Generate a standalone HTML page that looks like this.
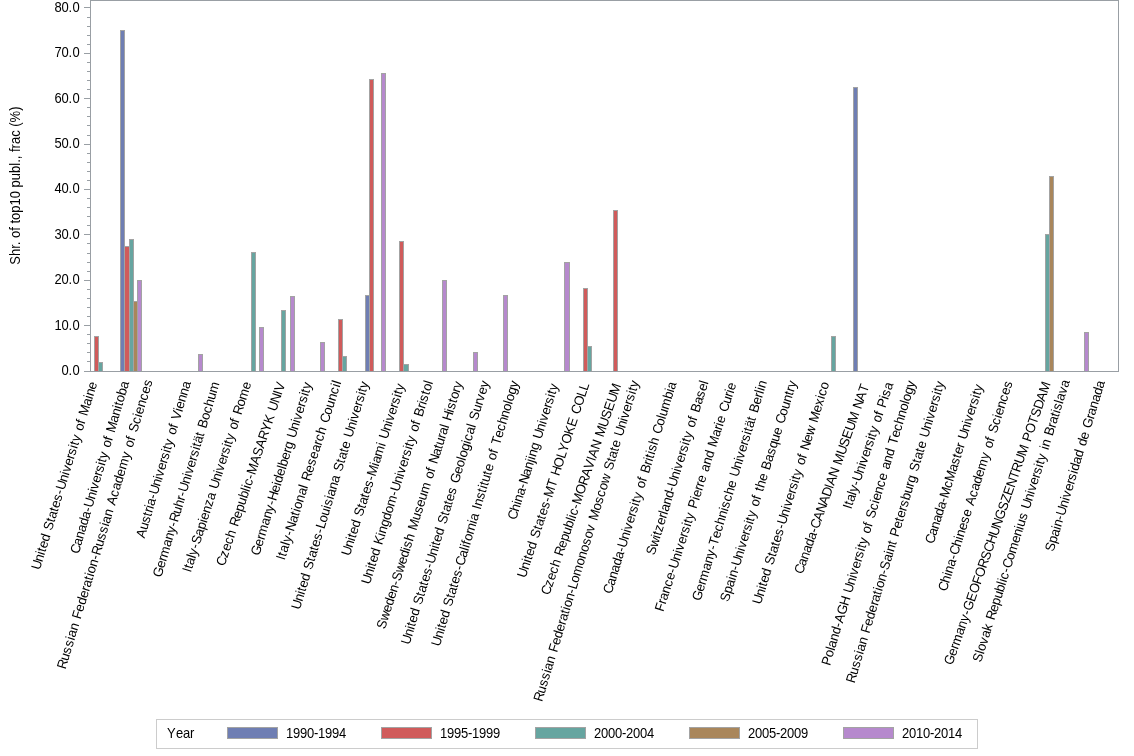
<!DOCTYPE html>
<html><head><meta charset="utf-8"><style>
html,body{margin:0;padding:0;background:#fff;}
svg{display:block;will-change:transform;}
text{font-family:'Liberation Sans',sans-serif;font-size:13.5px;fill:#000;}
</style></head><body>
<svg width="1134" height="756" viewBox="0 0 1134 756">
<rect x="90.5" y="0.5" width="1028" height="371" fill="#fff" stroke="#999fa4" stroke-width="1" shape-rendering="crispEdges"/>
<g shape-rendering="crispEdges"><rect x="94" y="336" width="5" height="35" fill="#a3a3a3"/><rect x="98" y="362" width="5" height="9" fill="#a3a3a3"/><rect x="120" y="30" width="5" height="341" fill="#a3a3a3"/><rect x="124" y="246" width="6" height="125" fill="#a3a3a3"/><rect x="129" y="239" width="5" height="132" fill="#a3a3a3"/><rect x="133" y="301" width="5" height="70" fill="#a3a3a3"/><rect x="137" y="280" width="5" height="91" fill="#a3a3a3"/><rect x="198" y="354" width="5" height="17" fill="#a3a3a3"/><rect x="251" y="252" width="5" height="119" fill="#a3a3a3"/><rect x="259" y="327" width="5" height="44" fill="#a3a3a3"/><rect x="281" y="310" width="5" height="61" fill="#a3a3a3"/><rect x="290" y="296" width="5" height="75" fill="#a3a3a3"/><rect x="320" y="342" width="5" height="29" fill="#a3a3a3"/><rect x="338" y="319" width="5" height="52" fill="#a3a3a3"/><rect x="342" y="356" width="5" height="15" fill="#a3a3a3"/><rect x="365" y="295" width="5" height="76" fill="#a3a3a3"/><rect x="369" y="79" width="5" height="292" fill="#a3a3a3"/><rect x="381" y="73" width="5" height="298" fill="#a3a3a3"/><rect x="399" y="241" width="5" height="130" fill="#a3a3a3"/><rect x="403" y="364" width="6" height="7" fill="#a3a3a3"/><rect x="442" y="280" width="5" height="91" fill="#a3a3a3"/><rect x="473" y="352" width="5" height="19" fill="#a3a3a3"/><rect x="503" y="295" width="5" height="76" fill="#a3a3a3"/><rect x="564" y="262" width="6" height="109" fill="#a3a3a3"/><rect x="583" y="288" width="5" height="83" fill="#a3a3a3"/><rect x="587" y="346" width="5" height="25" fill="#a3a3a3"/><rect x="613" y="210" width="5" height="161" fill="#a3a3a3"/><rect x="831" y="336" width="5" height="35" fill="#a3a3a3"/><rect x="853" y="87" width="5" height="284" fill="#a3a3a3"/><rect x="1045" y="234" width="5" height="137" fill="#a3a3a3"/><rect x="1049" y="176" width="5" height="195" fill="#a3a3a3"/><rect x="1084" y="332" width="5" height="39" fill="#a3a3a3"/><rect x="95" y="337" width="3" height="34" fill="#D05B5B"/><rect x="99" y="363" width="3" height="8" fill="#66A5A0"/><rect x="121" y="31" width="3" height="340" fill="#6F7EB3"/><rect x="125" y="247" width="4" height="124" fill="#D05B5B"/><rect x="130" y="240" width="3" height="131" fill="#66A5A0"/><rect x="134" y="302" width="3" height="69" fill="#A9865B"/><rect x="138" y="281" width="3" height="90" fill="#B689CD"/><rect x="199" y="355" width="3" height="16" fill="#B689CD"/><rect x="252" y="253" width="3" height="118" fill="#66A5A0"/><rect x="260" y="328" width="3" height="43" fill="#B689CD"/><rect x="282" y="311" width="3" height="60" fill="#66A5A0"/><rect x="291" y="297" width="3" height="74" fill="#B689CD"/><rect x="321" y="343" width="3" height="28" fill="#B689CD"/><rect x="339" y="320" width="3" height="51" fill="#D05B5B"/><rect x="343" y="357" width="3" height="14" fill="#66A5A0"/><rect x="366" y="296" width="3" height="75" fill="#6F7EB3"/><rect x="370" y="80" width="3" height="291" fill="#D05B5B"/><rect x="382" y="74" width="3" height="297" fill="#B689CD"/><rect x="400" y="242" width="3" height="129" fill="#D05B5B"/><rect x="404" y="365" width="4" height="6" fill="#66A5A0"/><rect x="443" y="281" width="3" height="90" fill="#B689CD"/><rect x="474" y="353" width="3" height="18" fill="#B689CD"/><rect x="504" y="296" width="3" height="75" fill="#B689CD"/><rect x="565" y="263" width="4" height="108" fill="#B689CD"/><rect x="584" y="289" width="3" height="82" fill="#D05B5B"/><rect x="588" y="347" width="3" height="24" fill="#66A5A0"/><rect x="614" y="211" width="3" height="160" fill="#D05B5B"/><rect x="832" y="337" width="3" height="34" fill="#66A5A0"/><rect x="854" y="88" width="3" height="283" fill="#6F7EB3"/><rect x="1046" y="235" width="3" height="136" fill="#66A5A0"/><rect x="1050" y="177" width="3" height="194" fill="#A9865B"/><rect x="1085" y="333" width="3" height="38" fill="#B689CD"/></g>
<path d="M90.5 0V372M90 371.5H1119" stroke="#999fa4" stroke-width="1" shape-rendering="crispEdges" fill="none"/>
<path d="M84 371.5H90M87 361.5H90M87 352.5H90M87 343.5H90M87 334.5H90M84 325.5H90M87 316.5H90M87 307.5H90M87 298.5H90M87 289.5H90M84 280.5H90M87 271.5H90M87 262.5H90M87 253.5H90M87 243.5H90M84 234.5H90M87 225.5H90M87 216.5H90M87 207.5H90M87 198.5H90M84 189.5H90M87 180.5H90M87 171.5H90M87 162.5H90M87 153.5H90M84 144.5H90M87 135.5H90M87 125.5H90M87 116.5H90M87 107.5H90M84 98.5H90M87 89.5H90M87 80.5H90M87 71.5H90M87 62.5H90M84 53.5H90M87 44.5H90M87 35.5H90M87 26.5H90M87 17.5H90M84 7.5H90" stroke="#999fa4" stroke-width="1" shape-rendering="crispEdges"/>
<text style="font-size:14px" transform="translate(79.40,375.00) scale(0.9286,1)" x="-19.38 -11.85 -7.54">0.0</text>
<text style="font-size:14px" transform="translate(79.40,330.00) scale(0.9286,1)" x="-26.92 -19.38 -11.85 -7.54">10.0</text>
<text style="font-size:14px" transform="translate(79.40,284.00) scale(0.9286,1)" x="-26.92 -19.38 -11.85 -7.54">20.0</text>
<text style="font-size:14px" transform="translate(79.40,239.00) scale(0.9286,1)" x="-26.92 -19.38 -11.85 -7.54">30.0</text>
<text style="font-size:14px" transform="translate(79.40,193.00) scale(0.9286,1)" x="-26.92 -19.38 -11.85 -7.54">40.0</text>
<text style="font-size:14px" transform="translate(79.40,148.00) scale(0.9286,1)" x="-26.92 -19.38 -11.85 -7.54">50.0</text>
<text style="font-size:14px" transform="translate(79.40,103.00) scale(0.9286,1)" x="-26.92 -19.38 -11.85 -7.54">60.0</text>
<text style="font-size:14px" transform="translate(79.40,57.00) scale(0.9286,1)" x="-26.92 -19.38 -11.85 -7.54">70.0</text>
<text style="font-size:14px" transform="translate(79.40,12.00) scale(0.9286,1)" x="-26.92 -19.38 -11.85 -7.54">80.0</text>
<text style="font-size:14px" transform="translate(20.00,185.60) rotate(-90) scale(0.9286,1)" text-anchor="middle">Shr. of top10 publ., frac (%)</text>
<text transform="translate(39.74,570.58) rotate(-72.91) scale(0.9630,1)" x="0.00 8.85 16.11 19.28 23.47 30.73 37.99 42.73 51.58 55.77 63.03 67.22 74.48 81.74 86.61 95.47 102.73 105.89 113.15 120.41 124.60 131.87 135.03 139.22 146.48 151.22 158.48 162.67 167.40 178.30 185.57 188.73 195.99">United States-University of Maine</text>
<text transform="translate(78.66,554.50) rotate(-73.58) scale(0.9630,1)" x="0.00 8.88 16.17 23.45 30.74 38.02 45.30 50.19 59.07 66.36 69.53 76.82 84.10 88.31 95.59 98.77 102.97 110.25 115.01 122.29 126.49 131.24 142.18 149.47 156.75 159.93 164.13 171.41 178.70">Canada-University of Manitoba</text>
<text transform="translate(65.49,669.80) rotate(-73.19) scale(0.9630,1)" x="0.00 9.05 16.46 23.88 31.30 34.54 41.95 49.37 54.21 62.21 69.63 77.05 84.47 88.75 96.16 100.45 103.68 111.10 118.52 123.49 132.54 139.96 147.38 154.79 158.03 165.45 172.86 177.70 186.75 194.17 201.59 209.00 216.42 228.02 235.44 240.28 247.70 251.98 256.82 265.87 273.28 276.52 283.94 291.35 298.77 306.19">Russian Federation-Russian Academy of Sciences</text>
<text transform="translate(144.44,538.74) rotate(-73.36) scale(0.9630,1)" x="0.00 8.86 16.13 23.40 27.60 31.79 34.96 42.23 47.10 55.97 63.24 66.41 73.67 80.94 85.14 92.41 95.57 99.77 107.04 111.78 119.05 123.24 127.98 136.85 140.02 147.28 154.55 161.82">Austria-University of Vienna</text>
<text transform="translate(161.23,577.92) rotate(-73.28) scale(0.9630,1)" x="0.00 9.94 17.24 21.46 32.89 40.19 47.50 54.80 59.70 68.61 75.92 83.22 87.44 92.34 101.25 108.56 111.74 119.05 126.35 130.57 137.87 141.06 145.27 152.58 156.80 161.56 170.47 177.78 185.08 192.39 199.69">Germany-Ruhr-Universität Bochum</text>
<text transform="translate(190.83,573.04) rotate(-72.28) scale(0.9630,1)" x="0.00 3.74 7.93 15.20 18.37 25.64 30.51 39.38 46.64 53.91 57.08 64.35 71.61 78.88 86.15 90.89 99.75 107.02 110.19 117.46 124.72 128.92 136.19 139.35 143.55 150.82 155.56 162.82 167.02 171.76 180.62 187.89 199.25">Italy-Sapienza University of Rome</text>
<text transform="translate(224.62,566.66) rotate(-71.60) scale(0.9630,1)" x="0.00 8.94 16.26 23.59 30.92 38.24 43.02 51.96 59.29 66.61 73.94 81.27 84.46 87.66 94.99 99.90 110.90 119.84 128.77 137.71 146.65 155.58 164.52 169.30 178.23 187.17 190.94">Czech Republic-MASARYK UNIV</text>
<text transform="translate(259.32,556.34) rotate(-73.02) scale(0.9630,1)" x="0.00 9.93 17.23 21.44 32.86 40.16 47.45 54.75 59.65 68.55 75.85 79.03 86.33 93.63 96.82 104.11 111.41 115.63 122.92 127.69 136.59 143.89 147.07 154.37 161.67 165.88 173.18 176.36 180.57">Germany-Heidelberg University</text>
<text transform="translate(284.62,560.65) rotate(-72.34) scale(0.9630,1)" x="0.00 3.84 8.15 15.62 18.87 26.34 31.35 40.45 47.92 52.23 55.48 62.95 70.42 77.88 81.14 86.01 95.11 102.58 110.05 117.51 124.98 129.29 136.75 144.22 149.09 158.19 165.66 173.13 180.59 188.06 191.31">Italy-National Research Council</text>
<text transform="translate(299.73,610.35) rotate(-73.07) scale(0.9630,1)" x="0.00 8.96 16.31 19.52 23.76 31.11 38.46 43.26 52.22 56.46 63.81 68.05 75.40 82.75 87.68 94.57 101.92 109.27 112.48 119.83 123.04 130.39 137.74 145.09 149.88 158.84 163.09 170.44 174.68 182.03 186.82 195.79 203.14 206.34 213.69 221.04 225.28 232.63 235.84 240.08">United States-Louisiana State University</text>
<text transform="translate(349.75,556.48) rotate(-72.17) scale(0.9630,1)" x="0.00 8.86 16.13 19.30 23.50 30.76 38.03 42.77 51.64 55.83 63.10 67.29 74.56 81.83 86.71 97.62 100.79 108.06 119.42 122.59 127.33 136.20 143.47 146.63 153.90 161.17 165.36 172.63 175.80 180.00">United States-Miami University</text>
<text transform="translate(369.71,585.06) rotate(-72.63) scale(0.9630,1)" x="0.00 8.93 16.26 19.45 23.68 31.00 38.33 43.11 52.04 55.23 62.56 69.88 77.21 84.54 95.99 100.91 109.84 117.16 120.36 127.68 135.01 139.23 146.56 149.75 153.98 161.31 166.08 173.41 177.64 182.41 191.35 195.57 198.77 206.09 210.32 217.65">United Kingdom-University of Bristol</text>
<text transform="translate(385.04,629.67) rotate(-72.50) scale(0.9630,1)" x="0.00 8.87 18.20 25.47 32.75 40.02 47.30 52.18 61.05 70.37 77.65 84.92 88.09 95.37 102.64 107.39 118.31 125.59 132.86 140.13 147.41 158.79 163.53 170.81 175.00 179.75 188.62 195.89 200.09 207.37 211.56 218.84 222.01 226.76 235.63 238.80 246.07 250.27 257.55 261.74">Sweden-Swedish Museum of Natural History</text>
<text transform="translate(409.38,645.23) rotate(-73.09) scale(0.9630,1)" x="0.00 8.95 16.29 19.50 23.73 31.07 38.42 43.21 52.16 56.40 63.74 67.97 75.32 82.66 87.58 96.54 103.88 107.08 111.32 118.66 126.00 130.79 139.74 143.98 151.32 155.56 162.90 170.24 175.03 185.02 192.36 199.70 202.90 210.24 217.59 220.79 228.13 235.47 238.67 243.46 252.41 259.76 263.99 271.33 278.68">United States-United States Geological Survey</text>
<text transform="translate(439.70,646.91) rotate(-73.35) scale(0.9630,1)" x="0.00 8.91 16.22 19.40 23.62 30.92 38.23 43.00 51.91 56.12 63.43 67.64 74.95 82.26 87.16 96.07 103.37 106.56 109.74 113.96 121.27 125.48 132.79 135.97 143.28 148.05 151.81 159.11 166.42 170.63 173.82 178.04 185.34 189.56 196.86 201.63 208.94 213.15 217.92 225.80 233.10 240.41 247.71 255.02 262.33 265.51 272.82 280.12">United States-California Institute of Technology</text>
<text transform="translate(516.08,520.39) rotate(-72.64) scale(0.9630,1)" x="0.00 8.85 16.12 19.28 26.54 33.80 38.67 47.53 54.79 62.05 65.22 68.38 75.64 82.90 87.64 96.50 103.76 106.92 114.18 121.44 125.63 132.89 136.06 140.25">China-Nanjing University</text>
<text transform="translate(525.62,578.40) rotate(-71.80) scale(0.9630,1)" x="0.00 8.95 16.29 19.49 23.72 31.06 38.40 43.18 52.13 56.37 63.71 67.94 75.28 82.62 87.54 98.56 106.47 111.26 120.21 130.19 137.07 146.02 156.00 164.95 173.90 178.69 187.64 197.62 204.50">United States-MT HOLYOKE COLL</text>
<text transform="translate(549.13,595.87) rotate(-71.09) scale(0.9630,1)" x="0.00 8.90 16.20 23.50 30.80 38.10 42.86 51.76 59.06 66.36 73.66 80.96 84.14 87.32 94.62 99.52 110.48 120.41 129.31 138.21 147.11 150.87 159.77 168.67 173.43 184.39 193.29 202.20 211.10 220.00">Czech Republic-MORAVIAN MUSEUM</text>
<text transform="translate(542.00,702.36) rotate(-73.12) scale(0.9630,1)" x="0.00 8.94 16.27 23.60 30.93 34.13 41.46 48.79 53.58 61.48 68.81 76.14 83.48 87.71 95.04 99.27 102.47 109.80 117.13 122.05 128.92 136.25 147.72 155.05 162.38 169.71 177.04 184.37 191.70 196.49 207.49 214.82 222.16 229.49 236.82 246.22 251.00 259.94 264.17 271.50 275.73 283.06 287.84 296.79 304.12 307.31 314.64 321.98 326.21 333.54 336.73 340.96">Russian Federation-Lomonosov Moscow State University</text>
<text transform="translate(611.62,594.41) rotate(-72.90) scale(0.9630,1)" x="0.00 8.85 16.11 23.37 30.63 37.88 45.14 50.01 58.86 66.12 69.29 76.54 83.80 87.99 95.25 98.41 102.60 109.86 114.60 121.85 126.04 130.78 139.63 143.82 146.98 151.17 154.33 161.59 168.85 173.59 182.44 189.70 192.86 200.12 211.47 218.73 221.89">Canada-University of British Columbia</text>
<text transform="translate(654.62,555.87) rotate(-72.72) scale(0.9630,1)" x="0.00 8.87 18.19 21.37 25.56 32.84 40.11 44.31 47.48 54.75 62.02 69.30 74.18 83.05 90.32 93.49 100.77 108.04 112.24 119.51 122.68 126.88 134.15 138.90 146.17 150.37 155.11 163.98 171.26 178.53 185.80">Switzerland-University of Basel</text>
<text transform="translate(663.26,612.15) rotate(-72.19) scale(0.9630,1)" x="0.00 7.95 12.20 19.57 26.94 34.31 41.68 46.62 55.61 62.98 66.19 73.56 80.93 85.18 92.55 95.77 100.02 107.39 112.20 121.18 124.40 131.76 136.02 140.27 147.64 152.45 159.82 167.19 174.55 179.36 190.43 197.80 202.05 205.26 212.63 217.44 226.43 233.79 238.05 241.26">France-University Pierre and Marie Curie</text>
<text transform="translate(700.54,601.51) rotate(-73.15) scale(0.9630,1)" x="0.00 9.98 17.31 21.55 33.02 40.36 47.69 55.03 59.95 67.86 75.19 82.53 89.86 97.20 100.40 107.73 115.07 122.40 129.74 134.52 143.47 150.81 154.00 161.34 168.67 172.91 180.24 183.44 187.67 195.01 199.24 204.03 212.97 220.31 224.54 227.74 230.94">Germany-Technische Universität Berlin</text>
<text transform="translate(728.59,602.52) rotate(-72.75) scale(0.9630,1)" x="0.00 8.88 16.17 23.45 26.63 33.92 38.80 47.69 54.97 58.15 65.43 72.72 76.92 84.21 87.38 91.59 98.87 103.63 110.91 115.11 119.87 124.07 131.35 138.64 143.39 152.28 159.56 166.85 174.13 181.42 188.70 193.45 202.34 209.62 216.91 224.19 228.40 232.60">Spain-University of the Basque Country</text>
<text transform="translate(760.86,605.07) rotate(-72.81) scale(0.9630,1)" x="0.00 8.86 16.13 19.30 23.49 30.75 38.02 42.76 51.62 55.81 63.08 67.27 74.54 81.80 86.68 95.54 102.80 105.97 113.24 120.50 124.70 131.96 135.13 139.32 146.59 151.33 158.60 162.79 167.53 176.39 183.66 192.97 197.71 208.62 215.88 223.15 226.32 233.58">United States-University of New Mexico</text>
<text transform="translate(802.52,574.73) rotate(-70.49) scale(0.9630,1)" x="0.00 8.83 16.07 23.30 30.54 37.78 45.02 49.88 58.70 67.53 76.36 85.19 94.01 97.74 106.57 115.39 120.12 130.98 139.81 148.64 157.47 166.29 177.16 181.88 190.71 199.54">Canada-CANADIAN MUSEUM NAT</text>
<text transform="translate(851.21,509.77) rotate(-71.39) scale(0.9630,1)" x="0.00 3.73 7.91 15.16 18.32 25.56 30.43 39.26 46.51 49.67 56.91 64.16 68.34 75.59 78.75 82.93 90.18 94.90 102.15 106.33 111.06 119.90 123.06 130.30">Italy-University of Pisa</text>
<text transform="translate(829.90,666.19) rotate(-73.21) scale(0.9630,1)" x="0.00 8.88 16.16 19.33 26.61 33.89 41.17 46.06 54.94 64.84 73.72 78.47 87.35 94.63 97.80 105.08 112.36 116.56 123.84 127.02 131.22 138.50 143.25 150.53 154.73 159.48 168.36 175.64 178.81 186.09 193.37 200.65 207.93 212.68 219.96 227.24 234.52 239.27 247.13 254.41 261.69 268.97 276.25 283.53 286.70 293.98 301.26">Poland-AGH University of Science and Technology</text>
<text transform="translate(854.50,683.68) rotate(-73.33) scale(0.9630,1)" x="0.00 8.98 16.34 23.70 31.06 34.27 41.63 48.99 53.79 61.73 69.09 76.45 83.81 88.06 95.42 99.67 102.88 110.24 117.60 122.54 131.52 138.88 142.09 149.45 153.70 158.50 167.48 174.84 179.08 186.44 190.69 198.05 205.41 212.78 217.02 224.38 229.19 238.16 242.41 249.77 254.02 261.38 266.18 275.16 282.52 285.73 293.09 300.45 304.70 312.06 315.27 319.52">Russian Federation-Saint Petersburg State University</text>
<text transform="translate(933.58,544.42) rotate(-72.58) scale(0.9630,1)" x="0.00 8.80 16.02 23.24 30.46 37.68 44.90 49.74 60.58 67.80 78.63 85.85 93.07 97.24 104.45 108.62 113.33 122.13 129.35 132.50 139.72 146.93 151.10 158.32 161.47 165.63">Canada-McMaster University</text>
<text transform="translate(946.40,591.90) rotate(-72.42) scale(0.9630,1)" x="0.00 9.00 16.39 19.61 26.99 34.37 39.32 48.33 55.71 58.93 66.31 73.70 81.08 88.46 93.28 102.28 109.66 117.05 124.43 131.81 143.36 150.74 155.56 162.94 167.20 172.02 181.02 188.40 191.62 199.01 206.39 213.77 221.15">China-Chinese Academy of Sciences</text>
<text transform="translate(952.36,665.72) rotate(-70.74) scale(0.9630,1)" x="0.00 9.94 17.24 21.45 32.87 40.18 47.48 54.78 59.68 69.62 78.53 88.46 96.34 106.27 115.18 124.09 132.99 141.90 150.81 159.71 169.65 178.55 186.43 195.34 204.24 212.12 221.03 229.93 240.90 245.66 254.57 264.50 272.38 281.29 290.19 299.10">Germany-GEOFORSCHUNGSZENTRUM POTSDAM</text>
<text transform="translate(981.06,662.89) rotate(-72.47) scale(0.9630,1)" x="0.00 8.86 12.03 19.30 26.56 33.83 41.09 45.83 54.69 61.96 69.23 76.49 83.76 86.93 90.10 97.36 102.24 111.10 118.36 129.73 136.99 144.26 147.43 154.69 161.96 166.70 175.56 182.83 186.00 193.26 200.53 204.72 211.99 215.16 219.35 226.61 231.35 234.52 241.79 246.53 255.39 259.58 266.85 271.04 274.21 281.48 284.64 291.91 299.18">Slovak Republic-Comenius University in Bratislava</text>
<text transform="translate(1053.62,552.22) rotate(-73.18) scale(0.9630,1)" x="0.00 8.91 16.21 23.51 26.70 34.00 38.90 47.81 55.12 58.30 65.60 72.91 77.12 84.43 87.61 94.92 102.22 109.52 114.29 121.59 128.90 133.66 143.60 147.81 155.12 162.42 169.72 177.03">Spain-Universidad de Granada</text>
<rect x="156.5" y="719.5" width="821" height="29" fill="#fff" stroke="#cccccc" stroke-width="1" shape-rendering="crispEdges"/>
<text style="font-size:14px" transform="translate(167.00,738.00) scale(0.9286,1)" x="0.00 9.69 17.23 24.77">Year</text>
<rect x="227.5" y="727.5" width="50" height="11" fill="#6F7EB3" stroke="#a3a3a3" stroke-width="1" shape-rendering="crispEdges"/>
<text style="font-size:14px" transform="translate(286.10,738.00) scale(0.9286,1)" x="0.00 7.54 15.08 22.62 30.15 34.46 42.00 49.54 57.08">1990-1994</text>
<rect x="381.5" y="727.5" width="50" height="11" fill="#D05B5B" stroke="#a3a3a3" stroke-width="1" shape-rendering="crispEdges"/>
<text style="font-size:14px" transform="translate(440.10,738.00) scale(0.9286,1)" x="0.00 7.54 15.08 22.62 30.15 34.46 42.00 49.54 57.08">1995-1999</text>
<rect x="535.5" y="727.5" width="50" height="11" fill="#66A5A0" stroke="#a3a3a3" stroke-width="1" shape-rendering="crispEdges"/>
<text style="font-size:14px" transform="translate(594.10,738.00) scale(0.9286,1)" x="0.00 7.54 15.08 22.62 30.15 34.46 42.00 49.54 57.08">2000-2004</text>
<rect x="689.5" y="727.5" width="50" height="11" fill="#A9865B" stroke="#a3a3a3" stroke-width="1" shape-rendering="crispEdges"/>
<text style="font-size:14px" transform="translate(748.10,738.00) scale(0.9286,1)" x="0.00 7.54 15.08 22.62 30.15 34.46 42.00 49.54 57.08">2005-2009</text>
<rect x="843.5" y="727.5" width="50" height="11" fill="#B689CD" stroke="#a3a3a3" stroke-width="1" shape-rendering="crispEdges"/>
<text style="font-size:14px" transform="translate(902.10,738.00) scale(0.9286,1)" x="0.00 7.54 15.08 22.62 30.15 34.46 42.00 49.54 57.08">2010-2014</text>
</svg>
</body></html>
